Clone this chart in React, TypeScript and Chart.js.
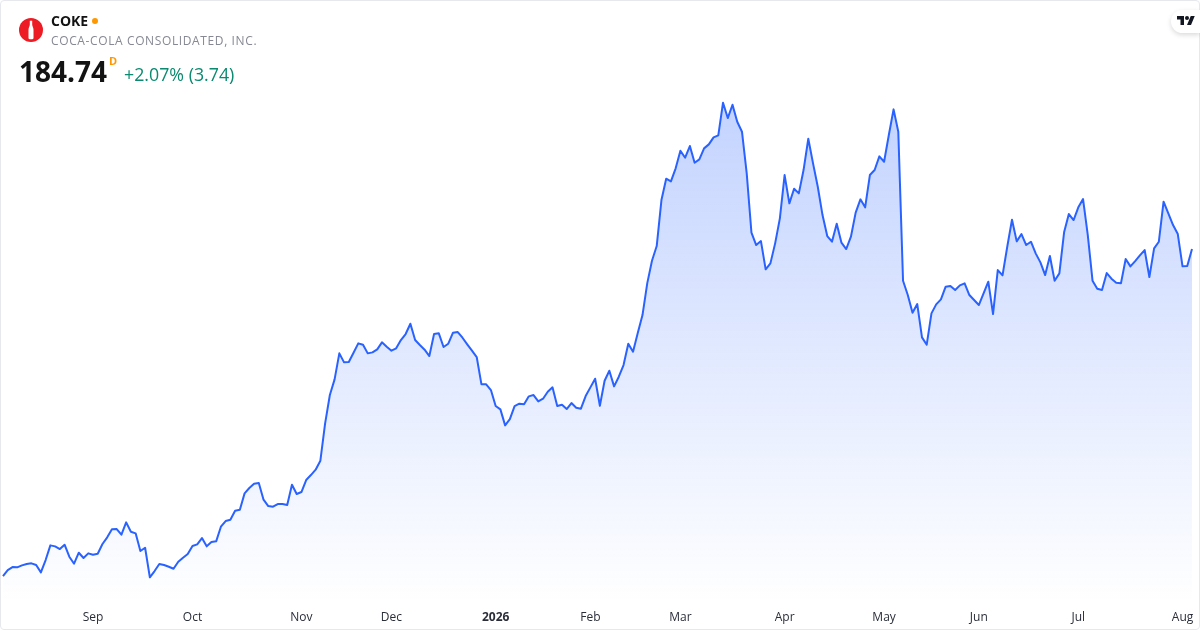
import React, { useEffect, useRef } from "react";
import { Chart, registerables } from "chart.js";

Chart.register(...registerables);

const augSepPrices = [
  112.8, 114.12, 114.78, 114.71, 115.15, 115.44, 115.59, 115.22, 113.61, 116.32, 119.55, 119.33, 118.74, 119.69, 117.05, 115.51,
  117.93, 116.76, 117.79, 117.49, 117.71, 119.84, 121.31, 123.07, 123.14, 121.89, 124.61, 122.55, 122.19, 118.3, 119.03, 112.51,
  113.9, 115.44, 115.22, 114.85, 114.41, 115.95, 116.83, 117.64,
];
const octNovPrices = [
  119.4, 119.77, 121.16, 119.33, 120.28, 120.43, 123.65, 124.9, 125.19, 127.17, 127.39, 130.99, 132.16, 133.11, 133.26, 129.59,
  128.2, 128.05, 128.64, 128.64, 128.42, 132.89, 130.84, 131.28, 133.92, 135.02, 136.2, 138.17, 146.39, 152.62, 156.07, 161.79,
  159.81, 159.88, 161.93, 163.99, 163.69, 161.79, 162.01, 162.67, 164.21, 163.25,
];
const decJanPrices = [
  162.37, 162.89, 164.72, 166.04, 168.31, 164.72, 163.62, 162.59, 161.2, 166.04, 166.19, 163.18, 163.91, 166.33, 166.48, 165.23,
  163.77, 162.37, 160.98, 154.97, 154.97, 153.72, 150.2, 149.47, 145.95, 147.34, 150.2, 150.71, 150.57, 152.33, 152.62, 151.23,
  151.81, 153.35, 154.31, 150.2, 150.49, 149.54, 150.86, 149.83, 149.61, 152.4, 154.31, 156.21, 150.27,
];
const febMarPrices = [
  155.77, 157.97, 154.53, 156.65, 159.22, 163.91, 162.15, 166.26, 170.22, 177.19, 182.17, 185.4, 195.52, 200.21, 199.63, 202.49,
  206.37, 204.83, 207.4, 203.73, 204.47, 206.89, 207.77, 209.31, 209.75, 216.93, 213.56, 216.49, 212.75, 210.55, 201.39, 188.33,
  185.62, 186.5, 180.27, 181.59, 185.99, 191.49,
];
const aprMayPrices = [
  201.02, 194.79, 198.01, 196.99, 202.12, 209.0, 203.59, 198.45, 192.22, 187.6, 186.35, 190.31, 186.13, 184.74, 187.45, 192.74,
  195.67, 193.91, 201.02, 202.12, 205.13, 203.95, 209.82, 215.47, 210.55, 177.77, 174.62, 170.73, 172.64, 165.31, 163.69, 170.59,
  172.57, 173.67, 176.45, 176.6, 175.72, 176.75, 177.19,
];
const junAugPrices = [
  174.62, 173.52, 172.42, 174.99, 177.55, 170.44, 180.12, 178.95, 185.25, 191.19, 186.43, 188.04, 185.62, 186.35, 183.79, 181.81,
  179.02, 183.2, 177.77, 179.39, 188.41, 192.44, 191.12, 193.91, 195.74, 187.82, 177.77, 176.01, 175.72, 179.46, 178.21, 177.33,
  177.19, 182.54, 180.93, 182.1, 183.35, 184.52, 178.58, 184.89, 186.35, 195.15, 192.59, 190.02, 188.04, 180.93, 181.0, 184.74,
];
const prices = [...augSepPrices, ...octNovPrices, ...decJanPrices, ...febMarPrices, ...aprMayPrices, ...junAugPrices];

const tickIndexes = [19, 40, 63, 82, 104, 124, 143, 165, 186, 206, 227, 249];
const tickLabels = ["Sep", "Oct", "Nov", "Dec", "2026", "Feb", "Mar", "Apr", "May", "Jun", "Jul", "Aug"];
const categories = prices.map((_, i) => {
  const at = tickIndexes.indexOf(i);
  return at >= 0 ? tickLabels[at] : "";
});

const FONT = '"Open Sans", "Noto Sans", sans-serif';

export default function App() {
  const ref = useRef<HTMLCanvasElement | null>(null);

  useEffect(() => {
    if (!ref.current) return;
    const chart = new Chart(ref.current, {
      type: "line",
      data: {
        labels: categories,
        datasets: [
          {
            data: prices,
            borderColor: "#2962ff",
            borderWidth: 2,
            pointRadius: 0,
            tension: 0,
            fill: "start",
            borderJoinStyle: "round",
            backgroundColor: (ctx: any) => {
              const c = ctx.chart;
              if (!c.chartArea) return "rgba(41,98,255,0.1)";
              const top = c.scales.y.getPixelForValue(Math.max(...prices));
              const g = c.ctx.createLinearGradient(0, top, 0, c.chartArea.bottom);
              g.addColorStop(0, "rgba(41,98,255,0.28)");
              g.addColorStop(1, "rgba(41,98,255,0)");
              return g;
            },
          },
        ],
      },
      options: {
        responsive: false,
        animation: false,
        layout: { padding: { left: 3, right: 8, top: 11.5, bottom: 0 } },
        plugins: { legend: { display: false }, tooltip: { enabled: false } },
        scales: {
          y: { display: false, min: 107, max: 237 },
          x: {
            afterFit: (s: any) => {
              s.height = 27.6;
              s.paddingLeft = 0;
              s.paddingRight = 0;
            },
            grid: { display: false, drawTicks: false },
            border: { display: false },
            ticks: {
              autoSkip: false,
              maxRotation: 0,
              minRotation: 0,
              padding: 8,
              color: "#2a2e39",
              font: (ctx: any) => ({
                family: FONT,
                size: 12,
                weight: ctx.tick && ctx.tick.label === "2026" ? "bold" : "normal",
              }),
            },
          },
        },
      },
    } as any);
    return () => chart.destroy();
  }, []);

  const text = (s: React.CSSProperties): React.CSSProperties => ({
    position: "absolute",
    fontFamily: FONT,
    whiteSpace: "nowrap",
    ...s,
  });

  return (
    <div style={{ position: "fixed", left: 0, top: 0, width: 1200, height: 630, background: "#fff", overflow: "hidden" }}>
      <canvas ref={ref} width={1200} height={630} style={{ position: "absolute", left: 0, top: 0, display: "block" }} />
      <div
        style={{
          position: "absolute",
          inset: 0,
          boxSizing: "border-box",
          border: "1px solid #e6e8ee",
          borderRadius: 4,
          pointerEvents: "none",
        }}
      />
      <svg width={24} height={24} viewBox="0 0 24 24" style={{ position: "absolute", left: 19, top: 18 }}>
        <circle cx={12} cy={12} r={12} fill="#ed1c24" />
        <path
          d="M10.8 2.800h2.400v3.600c0 1.800 1.300 3 1.300 5.400V20c0 .7-.5 1.200-1.200 1.200h-2.600c-.7 0-1.200-.5-1.200-1.200v-8.200c0-2.400 1.300-3.600 1.300-5.400z"
          fill="#fff"
        />
      </svg>
      <div style={text({ left: 51, top: 12, fontSize: 14, lineHeight: "18px", fontWeight: 700, color: "#131313" })}>COKE</div>
      <div style={{ position: "absolute", left: 92, top: 18, width: 6, height: 6, borderRadius: 3, background: "#ff9800" }} />
      <div style={text({ left: 51, top: 32, fontSize: 12, lineHeight: "17px", letterSpacing: 0.62, color: "#868993" })}>
        COCA-COLA CONSOLIDATED, INC.
      </div>
      <div style={text({ left: 19, top: 52, fontSize: 28, lineHeight: "38px", fontWeight: 700, color: "#131313" })}>184.74</div>
      <div style={text({ left: 109, top: 53, fontSize: 11, lineHeight: "15px", fontWeight: 700, color: "#ff9800" })}>D</div>
      <div style={text({ left: 124, top: 62, fontSize: 17.8, lineHeight: "24px", color: "#0b8a70" })}>+2.07% (3.74)</div>
      <div
        style={{
          position: "absolute",
          left: 1171,
          top: 10,
          width: 29,
          height: 23,
          background: "#fff",
          borderRadius: "12px 0 0 12px",
          boxShadow: "0 2px 5px rgba(0,0,0,0.15)",
        }}
      />
      <svg width={18} height={9} viewBox="0 4 36 18" style={{ position: "absolute", left: 1177, top: 16 }}>
        <path d="M14 22H7V11H0V4h14v18zM28 22h-8l7.500-18h8L28 22z" fill="#131722" />
        <circle cx={20} cy={8} r={4} fill="#131722" />
      </svg>
    </div>
  );
}
